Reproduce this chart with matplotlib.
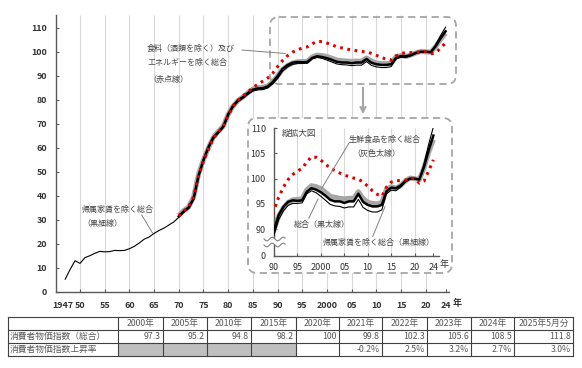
import matplotlib
matplotlib.use('Agg')
import matplotlib.pyplot as plt
from matplotlib.patches import FancyBboxPatch, Rectangle, Polygon
import numpy as np

plt.rcParams['font.family'] = ['Noto Sans CJK JP', 'DejaVu Sans']

# ---------------- data ----------------
years_thin = list(range(1947, 2025))
# 帰属家賃を除く総合（黒細線）
cpi_excl_rent = [5.2, 9.3, 12.9, 11.8, 14.2, 15.0, 16.0, 16.8, 16.6, 16.7,
                 17.2, 17.1, 17.2, 17.9, 18.9, 20.3, 21.9, 22.8, 24.3, 25.5,
                 26.5, 27.8, 29.1, 31.0, 33.0, 34.6, 38.3, 48.0, 54.5, 59.8,
                 63.8, 66.0, 68.3, 73.4, 77.0, 79.2, 80.6, 82.2, 83.6, 84.1,
                 84.2, 84.9, 86.6, 88.8, 91.9, 93.6, 94.7, 95.1, 95.1, 95.2,
                 97.0, 97.6, 97.2, 96.5, 95.7, 94.9, 94.6, 94.5, 94.2, 94.4,
                 94.4, 95.9, 94.3, 93.7, 93.4, 93.4, 93.8, 97.0, 97.7, 97.6,
                 98.3, 99.3, 99.9, 100.0, 99.8, 102.9, 106.8, 110.2]
years_long = list(range(1970, 2025))
# 総合（黒太線）
cpi_total = [31.4, 33.5, 35.1, 38.8, 48.4, 54.9, 60.2, 64.3, 66.5, 68.8,
             73.9, 77.5, 79.7, 81.1, 82.8, 84.2, 84.7, 84.8, 85.5, 87.3,
             89.8, 92.8, 94.4, 95.4, 95.7, 95.6, 95.7, 97.4, 98.1, 97.8,
             97.3, 96.6, 95.8, 95.5, 95.5, 95.2, 95.5, 95.5, 97.0, 95.4,
             94.8, 94.5, 94.5, 94.8, 97.5, 98.2, 98.1, 98.6, 99.5, 100.0,
             100.0, 99.8, 102.3, 105.6, 108.5]
# 生鮮食品を除く総合（灰色太線）
cpi_core = [31.8, 33.8, 35.3, 39.5, 49.0, 55.0, 60.0, 64.3, 66.8, 69.0,
            73.9, 77.4, 79.7, 81.2, 82.9, 84.4, 85.0, 85.2, 85.7, 87.4,
            89.9, 92.6, 94.2, 95.3, 95.8, 95.9, 96.0, 97.8, 98.6, 98.4,
            98.0, 97.3, 96.5, 96.3, 96.1, 96.0, 96.1, 96.1, 97.4, 96.1,
            95.3, 95.1, 95.0, 95.3, 97.9, 98.4, 98.1, 98.6, 99.5, 100.1,
            100.0, 99.8, 102.1, 105.2, 107.7]
# 食料（酒類を除く）及びエネルギーを除く総合（赤点線）
cpi_excl_food_energy = [31.5, 33.5, 35.5, 39.5, 48.5, 54.5, 59.5, 64.0, 66.5, 68.8,
                        73.5, 77.3, 79.8, 81.5, 83.3, 85.0, 86.5, 87.7, 89.0, 91.0,
                        93.8, 96.3, 98.3, 99.8, 100.8, 101.5, 102.0, 103.3, 104.3, 104.2,
                        103.6, 102.9, 102.0, 101.6, 101.1, 100.7, 100.4, 100.1, 99.9, 99.3,
                        98.5, 97.6, 96.9, 96.5, 98.3, 99.3, 99.6, 99.6, 99.7, 100.1,
                        100.0, 99.1, 99.5, 101.5, 103.7]

main_xticks = [1950, 1955, 1960, 1965, 1970, 1975, 1980, 1985, 1990, 1995,
               2000, 2005, 2010, 2015, 2020, 2024]
main_xlabels = ['50', '55', '60', '65', '70', '75', '80', '85', '90', '95',
                '2000', '05', '10', '15', '20', '24']
main_grid = [1950, 1955, 1960, 1965, 1970, 1975, 1980, 1985, 1990, 1995,
             2000, 2005, 2010, 2015, 2020]
main_yticks = [0, 10, 20, 30, 40, 50, 60, 70, 80, 90, 100, 110]

inset_xticks = [1990, 1995, 2000, 2005, 2010, 2015, 2020, 2024]
inset_xlabels = ['90', '95', '2000', '05', '10', '15', '20', '24']
inset_grid = [1995, 2000, 2005, 2010, 2015, 2020]
inset_yticks = [90, 95, 100, 105, 110]

table_header = ['2000年', '2005年', '2010年', '2015年', '2020年',
                '2021年', '2022年', '2023年', '2024年', '2025年5月分']
table_row_labels = ['消費者物価指数（総合）', '消費者物価指数上昇率']
table_cpi = ['97.3', '95.2', '94.8', '98.2', '100', '99.8', '102.3', '105.6', '108.5', '111.8']
table_rate = ['', '', '', '', '', '-0.2%', '2.5%', '3.2%', '2.7%', '3.0%']

# ---------------- layout ----------------
W, H = 582, 368
fig = plt.figure(figsize=(W / 100, H / 100), dpi=100)
fig.patch.set_facecolor('white')


def rect(l, t, r, b):
    return [l / W, 1 - b / H, (r - l) / W, (b - t) / H]


TXT = '#404040'
AX = '#595959'
GRID = '#d9d9d9'
GRAYLINE = '#a6a6a6'
RED = '#e00000'


def draw_series(a):
    a.plot(years_long, cpi_core, color=GRAYLINE, lw=3.6, zorder=2,
           solid_joinstyle='round', solid_capstyle='butt')
    a.plot(years_long, cpi_total, color='black', lw=1.8, zorder=3,
           solid_joinstyle='round')
    a.plot(years_thin, cpi_excl_rent, color='black', lw=0.8, zorder=4)
    a.plot(years_long, cpi_excl_food_energy, color=RED, lw=2.2,
           linestyle=(0, (0.9, 1.5)), zorder=5)


# main axes
ax = fig.add_axes(rect(56, 15, 449, 291.7), zorder=0)
ax.set_xlim(1945.14, 2024.7)
ax.set_ylim(0, 115.3)
for s in ['top', 'right']:
    ax.spines[s].set_visible(False)
for s in ['left', 'bottom']:
    ax.spines[s].set_color(AX)
    ax.spines[s].set_linewidth(1.0)
ax.vlines(main_grid, 0, 115.3, color=GRID, lw=0.8, zorder=0.5)
draw_series(ax)
ax.set_yticks(main_yticks)
ax.set_yticklabels([str(v) for v in main_yticks])
ax.set_xticks(main_xticks)
ax.set_xticklabels(main_xlabels)
ax.set_xticks([1946.6], minor=True)
ax.set_xticklabels(['1947'], minor=True)
ax.tick_params(axis='both', which='major', direction='in', length=2.5,
               color=AX, labelsize=6.4, labelcolor='#333333')
ax.tick_params(axis='x', which='major', pad=6.5)
ax.tick_params(axis='y', which='major', pad=6.5)
ax.tick_params(axis='x', which='minor', length=0, labelsize=6.4,
               labelcolor='#333333', pad=6.5)
for lab in ax.get_xticklabels(minor=True) + ax.get_xticklabels() + ax.get_yticklabels():
    lab.set_fontweight('bold')

# middle layer: inset white box and highlight box
mid = fig.add_axes([0, 0, 1, 1], zorder=1)
mid.set_xlim(0, W)
mid.set_ylim(H, 0)
mid.axis('off')
mid.patch.set_alpha(0)
mid.add_patch(FancyBboxPatch((248, 118), 204, 155,
                             boxstyle='round,pad=0,rounding_size=9',
                             facecolor='white', edgecolor=GRAYLINE, lw=1.3,
                             linestyle=(0, (4, 2.5))))
mid.add_patch(FancyBboxPatch((270, 17), 186, 67,
                             boxstyle='round,pad=0,rounding_size=9',
                             facecolor='none', edgecolor=GRAYLINE, lw=1.3,
                             linestyle=(0, (4, 2.5))))
mid.annotate('', xy=(363, 117), xytext=(363, 85),
             arrowprops=dict(arrowstyle='->', color=GRAYLINE, lw=1.5,
                             mutation_scale=9))

# inset axes
ax2 = fig.add_axes(rect(274, 128, 439, 255.5), zorder=2)
ax2.set_xlim(1990, 2025.2)
ax2.set_ylim(84.8, 110)
ax2.patch.set_alpha(0)
for s in ['top', 'right']:
    ax2.spines[s].set_visible(False)
for s in ['left', 'bottom']:
    ax2.spines[s].set_color(AX)
    ax2.spines[s].set_linewidth(1.0)
ax2.vlines(inset_grid, 84.8, 110, color=GRID, lw=0.8, zorder=0.5)
draw_series(ax2)
ax2.set_yticks([84.8] + inset_yticks)
ax2.set_yticklabels(['0'] + [str(v) for v in inset_yticks])
ax2.set_xticks(inset_xticks)
ax2.set_xticklabels(inset_xlabels)
ax2.tick_params(axis='both', direction='in', length=2.5, color=AX,
                labelsize=6.5, labelcolor='#333333')
ax2.tick_params(axis='x', pad=5.5)
ax2.tick_params(axis='y', pad=5.8)

# top overlay: annotations, table
ov = fig.add_axes([0, 0, 1, 1], zorder=5)
ov.set_xlim(0, W)
ov.set_ylim(H, 0)
ov.axis('off')
ov.patch.set_alpha(0)

# axis break on inset
xs = np.linspace(264, 285, 60)
w1 = 239 + 1.8 * np.sin(2 * np.pi * (xs - 264) / 11)
w2 = 245 + 1.8 * np.sin(2 * np.pi * (xs - 264) / 11)
ov.add_patch(Polygon(np.column_stack([np.r_[xs, xs[::-1]], np.r_[w1, w2[::-1]]]),
                     closed=True, facecolor='white', edgecolor='none'))
ov.plot(xs, w1, color='#808080', lw=0.8)
ov.plot(xs, w2, color='#808080', lw=0.8)

# 年 labels
ov.text(452.5, 303, '年', fontsize=6.5, color='#333333', va='center', ha='left',
        fontweight='bold')
ov.text(440, 264.5, '年', fontsize=6.5, color='#333333', va='center', ha='left')

fs_a = 5.8
lead = dict(color='#808080', lw=0.7)
# main annotations
ov.text(147, 48, '食料（酒類を除く）及び', fontsize=fs_a, color=TXT, va='center')
ov.text(147, 63, 'エネルギーを除く総合', fontsize=fs_a, color=TXT, va='center')
ov.text(148, 79, '（赤点線）', fontsize=fs_a, color=TXT, va='center')
ov.plot([242, 285], [50, 53.5], **lead)
ov.text(81, 209, '帰属家賃を除く総合', fontsize=fs_a, color=TXT, va='center')
ov.text(82, 224, '（黒細線）', fontsize=fs_a, color=TXT, va='center')
ov.plot([141.7, 152.7], [215, 233.3], **lead)

# inset annotations
ov.text(282, 133, '縦拡大図', fontsize=6.2, color=TXT, va='center')
ov.text(349, 139, '生鮮食品を除く総合', fontsize=fs_a, color=TXT, va='center')
ov.text(352, 153, '（灰色太線）', fontsize=fs_a, color=TXT, va='center')
ov.plot([349.3, 321.7], [142.5, 188.3], **lead)
ov.text(294, 224, '総合（黒太線）', fontsize=fs_a, color=TXT, va='center')
ov.plot([309, 318], [218, 199], **lead)
ov.text(322, 242, '帰属家賃を除く総合（黒細線）', fontsize=fs_a, color=TXT, va='center')
ov.plot([372.7, 385], [236.5, 206.7], **lead)

# table
col_edges = [8, 118, 163, 207, 251, 296, 339, 382, 427, 471, 514, 573]
row_edges = [317.3, 330, 342.7, 356]
TC = '#595959'
LC = '#404040'
for i in range(4):
    ov.add_patch(Rectangle((col_edges[i + 1], row_edges[2]),
                           col_edges[i + 2] - col_edges[i + 1],
                           row_edges[3] - row_edges[2],
                           facecolor='#bfbfbf', edgecolor='none'))
for y in row_edges:
    ov.plot([col_edges[0], col_edges[-1]], [y, y], color=LC, lw=0.8)
for x in col_edges:
    ov.plot([x, x], [row_edges[0], row_edges[-1]], color=LC, lw=0.8)
fs_t = 6.3
for i, h in enumerate(table_header):
    cx = (col_edges[i + 1] + col_edges[i + 2]) / 2
    ov.text(cx, (row_edges[0] + row_edges[1]) / 2, h, fontsize=fs_t, color=TC,
            ha='center', va='center')
for j, lab in enumerate(table_row_labels):
    ov.text(col_edges[0] + 2, (row_edges[j + 1] + row_edges[j + 2]) / 2, lab,
            fontsize=fs_t, color=TC, ha='left', va='center')
for i, v in enumerate(table_cpi):
    ov.text(col_edges[i + 2] - 2, (row_edges[1] + row_edges[2]) / 2, v,
            fontsize=fs_t, color=TC, ha='right', va='center')
for i, v in enumerate(table_rate):
    if v:
        ov.text(col_edges[i + 2] - 2, (row_edges[2] + row_edges[3]) / 2, v,
                fontsize=fs_t, color=TC, ha='right', va='center')

fig.savefig('out.png', dpi=100, facecolor='white')
